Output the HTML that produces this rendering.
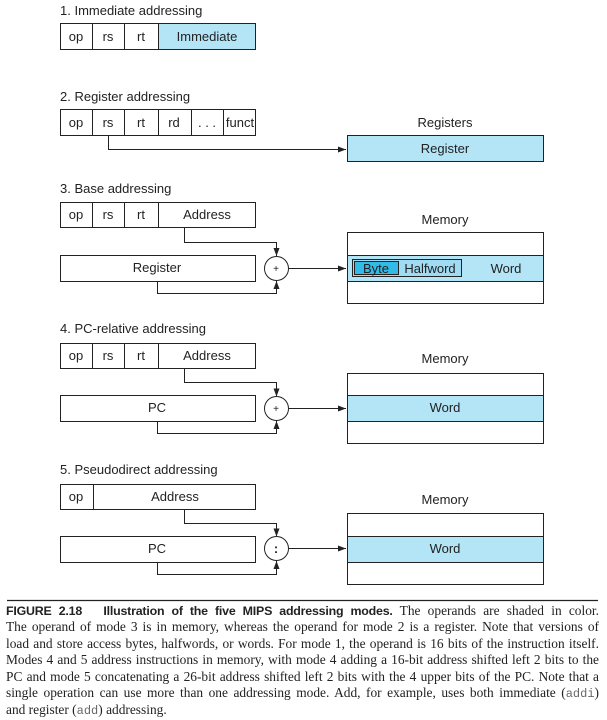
<!DOCTYPE html>
<html><head><meta charset="utf-8"><style>
html,body{margin:0;padding:0;background:#fff;width:607px;height:720px;overflow:hidden}
svg{position:absolute;left:0;top:0}
.cap{position:absolute;left:6px;top:603px;width:593px;font-family:"Liberation Serif",serif;font-size:13.4px;line-height:16.4px;color:#222}
.cap div{text-align:justify;text-align-last:justify;white-space:nowrap}
.cap div.l{text-align-last:left}
.cap b{font-family:"Liberation Sans",sans-serif;font-weight:bold;font-size:12.4px;letter-spacing:-0.2px}
.m{font-family:"Liberation Mono",monospace;font-size:12px;color:#666}
</style></head><body>
<svg width="607" height="720" font-family="Liberation Sans, sans-serif" font-size="13" fill="#222">
<defs><marker id="a" markerWidth="8" markerHeight="6" refX="8" refY="3" orient="auto" markerUnits="userSpaceOnUse"><path d="M0,0L8,3L0,6z" fill="#222"/></marker></defs>
<g stroke="#222" stroke-width="1" fill="none">
<rect x="158.5" y="23.5" width="97" height="26" fill="#b3e5f7"/>
<rect x="60.5" y="23.5" width="195" height="26"/>
<path d="M92.5 23.5v26M124.5 23.5v26M158.5 23.5v26"/>
<rect x="60.5" y="109.5" width="195" height="26"/>
<path d="M92.5 109.5v26M124.5 109.5v26M158.5 109.5v26M191.5 109.5v26M223.5 109.5v26"/>
<rect x="347.5" y="135.5" width="196" height="26" fill="#b3e5f7"/>
<path d="M108.5 135.5v14H346" marker-end="url(#a)"/>
<rect x="60.5" y="202.5" width="195" height="25"/>
<path d="M92.5 202.5v25M124.5 202.5v25M158.5 202.5v25"/>
<rect x="60.5" y="255.5" width="195" height="26"/>
<circle cx="276.5" cy="268.5" r="12" fill="#fff"/>
<path d="M184.5 227.5v15h92v13.5" marker-end="url(#a)"/>
<path d="M157.5 281.5v12h119v-12.5" marker-end="url(#a)"/>
<path d="M288.5 268.5H346" marker-end="url(#a)"/>
<rect x="347.5" y="232.5" width="196" height="71"/>
<rect x="347.5" y="255.5" width="196" height="26" fill="#b3e5f7"/>
<rect x="352.5" y="259.5" width="109" height="17" fill="#9fdcf3"/>
<rect x="354.5" y="261.5" width="44" height="13" fill="#33bbe8"/>
<rect x="60.5" y="343.5" width="195" height="25"/>
<path d="M92.5 343.5v25M124.5 343.5v25M158.5 343.5v25"/>
<rect x="60.5" y="395.5" width="195" height="26"/>
<circle cx="276.5" cy="408.5" r="12" fill="#fff"/>
<path d="M184.5 368.5v14h92v14" marker-end="url(#a)"/>
<path d="M157.5 421.5v12h119v-12.5" marker-end="url(#a)"/>
<path d="M288.5 408.5H346" marker-end="url(#a)"/>
<rect x="347.5" y="373.5" width="196" height="70"/>
<rect x="347.5" y="395.5" width="196" height="26" fill="#b3e5f7"/>
<rect x="60.5" y="484.5" width="195" height="25"/>
<path d="M93.5 484.5v25"/>
<rect x="60.5" y="536.5" width="195" height="26"/>
<circle cx="276.5" cy="548.5" r="12" fill="#fff"/>
<path d="M184.5 509.5v14h92v13" marker-end="url(#a)"/>
<path d="M157.5 562.5v12h119v-13.5" marker-end="url(#a)"/>
<path d="M288.5 548.5H346" marker-end="url(#a)"/>
<rect x="347.5" y="513.5" width="196" height="71"/>
<rect x="347.5" y="536.5" width="196" height="26" fill="#b3e5f7"/>
<path d="M7 600.5H598" stroke-width="1.2"/>
</g>
<text x="60" y="15">1.  Immediate addressing</text>
<text x="60" y="101">2. Register addressing</text>
<text x="60" y="193">3.  Base addressing</text>
<text x="60" y="333">4.  PC-relative addressing</text>
<text x="60" y="474">5.  Pseudodirect addressing</text>
<g text-anchor="middle">
<text x="76" y="41">op</text><text x="108" y="41">rs</text><text x="141" y="41">rt</text><text x="207" y="41">Immediate</text>
<text x="76" y="127">op</text><text x="108" y="127">rs</text><text x="141" y="127">rt</text><text x="174" y="127">rd</text><text x="207" y="127">. . .</text><text x="240" y="127">funct</text>
<text x="445" y="127">Registers</text><text x="445" y="153">Register</text>
<text x="76" y="219">op</text><text x="108" y="219">rs</text><text x="141" y="219">rt</text><text x="207" y="219">Address</text>
<text x="157" y="272">Register</text><text x="276" y="272" font-size="10">+</text>
<text x="445" y="224">Memory</text>
<text x="376" y="273">Byte</text><text x="430" y="273">Halfword</text><text x="506" y="273">Word</text>
<text x="76" y="360">op</text><text x="108" y="360">rs</text><text x="141" y="360">rt</text><text x="207" y="360">Address</text>
<text x="157" y="412">PC</text><text x="276" y="412" font-size="10">+</text>
<text x="445" y="363">Memory</text><text x="445" y="412">Word</text>
<text x="76" y="501">op</text><text x="175" y="501">Address</text>
<text x="157" y="553">PC</text><text x="276" y="553" font-weight="bold">:</text>
<text x="445" y="504">Memory</text><text x="445" y="553">Word</text>
</g>
</svg>
<div class="cap">
<div><b>FIGURE 2.18&nbsp;&nbsp;&nbsp;Illustration of the five MIPS addressing modes.</b> The operands are shaded in color.</div>
<div>The operand of mode 3 is in memory, whereas the operand for mode 2 is a register. Note that versions of</div>
<div>load and store access bytes, halfwords, or words. For mode 1, the operand is 16 bits of the instruction itself.</div>
<div>Modes 4 and 5 address instructions in memory, with mode 4 adding a 16-bit address shifted left 2 bits to the</div>
<div>PC and mode 5 concatenating a 26-bit address shifted left 2 bits with the 4 upper bits of the PC. Note that a</div>
<div>single operation can use more than one addressing mode. Add, for example, uses both immediate (<span class="m">addi</span>)</div>
<div class="l">and register (<span class="m">add</span>) addressing.</div>
</div>
</body></html>
